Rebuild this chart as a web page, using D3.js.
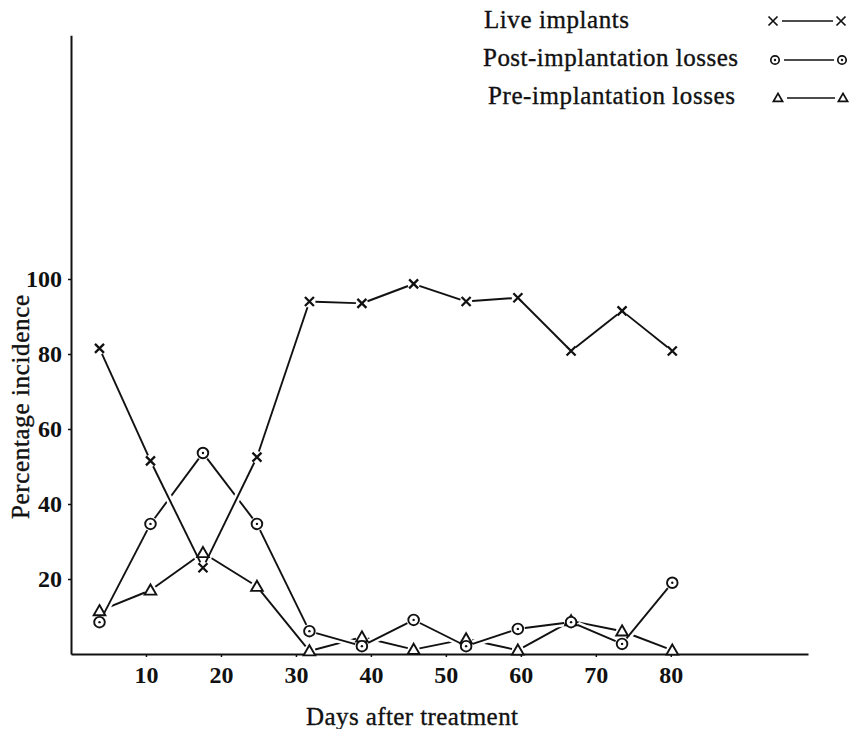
<!DOCTYPE html>
<html>
<head>
<meta charset="utf-8">
<script src="https://cdn.jsdelivr.net/npm/d3@7"></script>
<style>
  body { margin: 0; background: #fff; }
  text { font-family: "Liberation Serif", "DejaVu Serif", serif; fill: #111; }
</style>
</head>
<body>
<svg id="svg"></svg>
<script>
    var w = 857;
    var h = 729;

    // data
    var days = [3.8, 10.6, 17.6, 24.8, 31.8, 38.8, 45.7, 52.7, 59.6, 66.7, 73.5, 80.2];
    var live = [81.5, 51.5, 23, 52.5, 94, 93.5, 98.7, 94, 95, 80.8, 91.5, 80.8];
    var post = [8.5, 34.7, 53.6, 34.7, 6.1, 2.1, 9.1, 2.1, 6.7, 8.5, 2.7, 19];
    var pre = [11.5, 17, 27, 18, 0.8, 4.5, 1.2, 4, 1, 8.8, 6.1, 1];
    var xTicks = [10, 20, 30, 40, 50, 60, 70, 80];
    var yTicks = [20, 40, 60, 80, 100];
    var legendNames = ["Live implants", "Post-implantation losses", "Pre-implantation losses"];
    var legendKinds = ["cross", "circle", "triangle"];

    var ink = "#111";

    svg = d3.select("#svg")
        .attr("width", w)
        .attr("height", h)

    var x = d3.scaleLinear().domain([0, 98.3]).range([71, 808]);
    var y = d3.scaleLinear().domain([0, 165]).range([654, 35.25]);

    // axes
    var xAxis = d3.axisBottom(x).tickValues(xTicks).tickSize(3).tickPadding(9).tickSizeOuter(0);
    var yAxis = d3.axisLeft(y).tickValues(yTicks).tickSize(3).tickPadding(6).tickSizeOuter(0);

    var gx = svg.append("g").attr("transform", "translate(0," + y(0) + ")").call(xAxis);
    var gy = svg.append("g").attr("transform", "translate(" + x(0) + ",0)").call(yAxis);

    [gx, gy].forEach(function(g) {
        g.select(".domain").attr("stroke", ink).attr("stroke-width", 2);
        g.selectAll(".tick line").attr("stroke", ink).attr("stroke-width", 1.5);
        g.selectAll(".tick text")
            .style("font-family", '"Liberation Serif", serif')
            .style("font-size", "24px")
            .style("font-weight", "bold")
            .attr("fill", ink)
    })

    svg.append("text")
        .attr("x", 412).attr("y", 725)
        .attr("text-anchor", "middle")
        .style("font-size", "25px")
        .attr("textLength", 212).attr("lengthAdjust", "spacing")
        .attr("stroke", ink).attr("stroke-width", 0.35)
        .text("Days after treatment")

    svg.append("text")
        .attr("transform", "translate(29,407)rotate(-90)")
        .attr("text-anchor", "middle")
        .style("font-size", "25px")
        .attr("textLength", 224).attr("lengthAdjust", "spacing")
        .attr("stroke", ink).attr("stroke-width", 0.35)
        .text("Percentage incidence")

    // marker drawing
    var marker = function(g, kind, cx, cy, s, sw) {
        if (kind == "cross") {
            g.append("path")
                .attr("d", "M" + (cx - s) + "," + (cy - s) + "L" + (cx + s) + "," + (cy + s) +
                           "M" + (cx - s) + "," + (cy + s) + "L" + (cx + s) + "," + (cy - s))
                .attr("stroke", ink).attr("stroke-width", sw).attr("fill", "none")
        } else if (kind == "circle") {
            g.append("circle").attr("cx", cx).attr("cy", cy).attr("r", s)
                .attr("stroke", ink).attr("stroke-width", sw).attr("fill", "#fff")
            g.append("circle").attr("cx", cx).attr("cy", cy).attr("r", 1.2).attr("fill", ink)
        } else {
            var t = s * 1.1;
            g.append("path")
                .attr("d", "M" + cx + "," + (cy - t) + "L" + (cx + t) + "," + (cy + t * 0.75) +
                           "L" + (cx - t) + "," + (cy + t * 0.75) + "Z")
                .attr("stroke", ink).attr("stroke-width", sw).attr("fill", "#fff")
        }
    }

    var series = [
        {name: "pre", values: pre, kind: "triangle", gap: 6},
        {name: "post", values: post, kind: "circle", gap: 7},
        {name: "live", values: live, kind: "cross", gap: 6}
    ];

    var lines = svg.append("g");

    // each segment stops just short of the markers,
    // with a white casing so later lines break the earlier ones at crossings
    series.forEach(function(s) {
        var g = lines.append("g").attr("class", s.name);
        for (var i = 0; i < days.length - 1; i++) {
            var x1 = x(days[i]), y1 = y(s.values[i]);
            var x2 = x(days[i + 1]), y2 = y(s.values[i + 1]);
            var dx = x2 - x1, dy = y2 - y1;
            var len = Math.sqrt(dx * dx + dy * dy);
            var ux = dx / len, uy = dy / len;
            var a = [x1 + ux * s.gap, y1 + uy * s.gap];
            var b = [x2 - ux * s.gap, y2 - uy * s.gap];
            g.append("line")
                .attr("x1", a[0]).attr("y1", a[1]).attr("x2", b[0]).attr("y2", b[1])
                .attr("stroke", "#fff").attr("stroke-width", 7)
            g.append("line")
                .attr("x1", a[0]).attr("y1", a[1]).attr("x2", b[0]).attr("y2", b[1])
                .attr("stroke", ink).attr("stroke-width", 1.9)
        }
    })

    var marks = svg.append("g");
    series.forEach(function(s) {
        var g = marks.append("g").attr("class", s.name + "_marks");
        days.forEach(function(d, i) {
            marker(g, s.kind, x(d), y(s.values[i]), s.kind == "cross" ? 4.5 : 5.3, s.kind == "cross" ? 2.3 : 1.9)
        })
    })

    // legend
    var legend = svg.append("g");
    var legendText = [484, 483, 488];
    var legendWidth = [145, 255, 247];
    var legendBase = [28, 66, 104];
    var legendMark = [[773, 841], [775, 842], [778, 843]];
    var legendMid = [21, 60, 98];
    legendNames.forEach(function(n, i) {
        legend.append("text")
            .attr("x", legendText[i]).attr("y", legendBase[i])
            .style("font-size", "25px")
            .attr("textLength", legendWidth[i]).attr("lengthAdjust", "spacing")
            .attr("stroke", ink).attr("stroke-width", 0.35)
            .text(n)
        var m = legendMark[i];
        legend.append("line")
            .attr("x1", m[0] + 9).attr("x2", m[1] - 8)
            .attr("y1", legendMid[i]).attr("y2", legendMid[i])
            .attr("stroke", ink).attr("stroke-width", 1.5)
        marker(legend, legendKinds[i], m[0], legendMid[i], legendKinds[i] == "cross" ? 4.5 : 4.2, 1.7)
        marker(legend, legendKinds[i], m[1], legendMid[i], legendKinds[i] == "cross" ? 4.5 : 4.2, 1.7)
    })
</script>
</body>
</html>
